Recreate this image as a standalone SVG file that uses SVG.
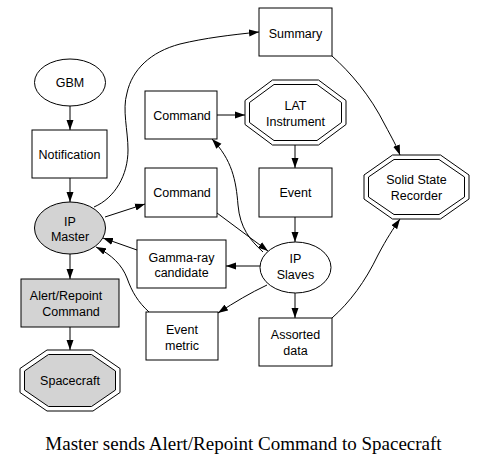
<svg xmlns="http://www.w3.org/2000/svg" width="487" height="467" viewBox="0 0 487 467">
<style>
.n{fill:#fff;stroke:#000;stroke-width:1}
.g{fill:#d3d3d3;stroke:#000;stroke-width:1}
.o{fill:none;stroke:#000;stroke-width:1}
.t{font-family:"Liberation Sans",Arial,sans-serif;font-size:12.5px;fill:#000;text-anchor:middle}
.e{fill:none;stroke:#000;stroke-width:1;marker-end:url(#a)}
.cap{font-family:"Liberation Serif","Times New Roman",serif;font-size:19px;fill:#000;text-anchor:middle}
</style>
<defs>
<marker id="a" markerUnits="userSpaceOnUse" markerWidth="10" markerHeight="8" refX="10" refY="3.5" orient="auto" viewBox="0 0 10 7">
<path d="M0,0 L10,3.5 L0,7 Z" fill="#000"/>
</marker>
</defs>
<rect width="487" height="467" fill="#fff"/>
<g id="connectors">
<path class="e" d="M70,106 L70,130"/>
<path class="e" d="M70,178 L70,202"/>
<path class="e" d="M70,254 L70,279"/>
<path class="e" d="M70,327 L70,350"/>
<path class="e" d="M94,207 C115,198 128,175 128,150 C128,130 122,110 127,93 C132,70 150,52 180,44 C205,38 230,35 259,32"/>
<path class="e" d="M105,217 L145,204"/>
<path class="e" d="M217,115 L245,115"/>
<path class="e" d="M295,145 L295,168"/>
<path class="e" d="M295,217 L295,242"/>
<path class="e" d="M217,213 L268,251"/>
<path class="e" d="M263,252 C250,240 240,228 238,205 C236,180 232,160 212,139"/>
<path class="e" d="M260,266 L226,266"/>
<path class="e" d="M137,250 L103,238"/>
<path class="e" d="M149,312 C138,302 132,292 127,278 C122,265 112,255 96,247"/>
<path class="e" d="M267,285 C250,293 235,302 218,313"/>
<path class="e" d="M295,293 L295,318"/>
<path class="e" d="M332,318 C350,302 365,282 378,255 C387,238 393,229 400,219"/>
<path class="e" d="M332,56 C350,72 370,95 385,125 C392,138 397,147 400,155"/>
</g>
<g id="gbm"><ellipse class="n" cx="70" cy="82.5" rx="35.5" ry="23.5"/><text class="t" x="70" y="87">GBM</text></g>
<g id="notification"><rect class="n" x="32" y="130" width="75" height="48"/><text class="t" x="69.5" y="158.5">Notification</text></g>
<g id="ip-master"><ellipse class="g" cx="70" cy="228" rx="35.5" ry="26"/><text class="t" x="70" y="225.5">IP</text><text class="t" x="70" y="241">Master</text></g>
<g id="alert-repoint"><rect class="g" x="21" y="279" width="98" height="48"/><text class="t" x="66" y="300">Alert/Repoint</text><text class="t" x="71" y="316">Command</text></g>
<g id="spacecraft"><polygon class="o" points="47,350 93,350 120,368.5 120,392.5 93,411 47,411 20,392.5 20,368.5"/><polygon class="g" points="48.5,354.5 91.5,354.5 115.5,371 115.5,390 91.5,406.5 48.5,406.5 24.5,390 24.5,371"/><text class="t" x="70" y="385">Spacecraft</text></g>
<g id="command1"><rect class="n" x="145" y="91" width="72" height="48"/><text class="t" x="182" y="119.5">Command</text></g>
<g id="command2"><rect class="n" x="145" y="168" width="72" height="49"/><text class="t" x="182" y="197">Command</text></g>
<g id="summary"><rect class="n" x="259" y="8" width="73" height="48"/><text class="t" x="295.5" y="38">Summary</text></g>
<g id="lat"><polygon class="o" points="272.5,80 318.5,80 346,100.5 346,124.5 318.5,145 272.5,145 245,124.5 245,100.5"/><polygon class="n" points="274,84.5 317,84.5 341.5,102.5 341.5,122.5 317,140.5 274,140.5 249.5,122.5 249.5,102.5"/><text class="t" x="295.5" y="110">LAT</text><text class="t" x="295.5" y="126">Instrument</text></g>
<g id="event"><rect class="n" x="259" y="168" width="73" height="49"/><text class="t" x="295.5" y="197">Event</text></g>
<g id="ssr"><polygon class="o" points="392.5,155 440.5,155 469,175 469,199 440.5,219 392.5,219 364,199 364,175"/><polygon class="n" points="394,159.5 439,159.5 464.5,177 464.5,197 439,214.5 394,214.5 368.5,197 368.5,177"/><text class="t" x="416.5" y="184">Solid State</text><text class="t" x="416.5" y="200">Recorder</text></g>
<g id="ip-slaves"><ellipse class="n" cx="295.5" cy="267.5" rx="35.5" ry="25.5"/><text class="t" x="295.5" y="263">IP</text><text class="t" x="295.5" y="279">Slaves</text></g>
<g id="gamma"><rect class="n" x="137" y="240" width="89" height="48"/><text class="t" x="181.5" y="262">Gamma-ray</text><text class="t" x="181.5" y="277">candidate</text></g>
<g id="event-metric"><rect class="n" x="146" y="312" width="72" height="48"/><text class="t" x="182" y="334">Event</text><text class="t" x="182" y="350">metric</text></g>
<g id="assorted"><rect class="n" x="259" y="318" width="73" height="48"/><text class="t" x="295.5" y="339">Assorted</text><text class="t" x="295.5" y="355">data</text></g>
<text class="cap" x="243.5" y="450">Master sends Alert/Repoint Command to Spacecraft</text>
</svg>
